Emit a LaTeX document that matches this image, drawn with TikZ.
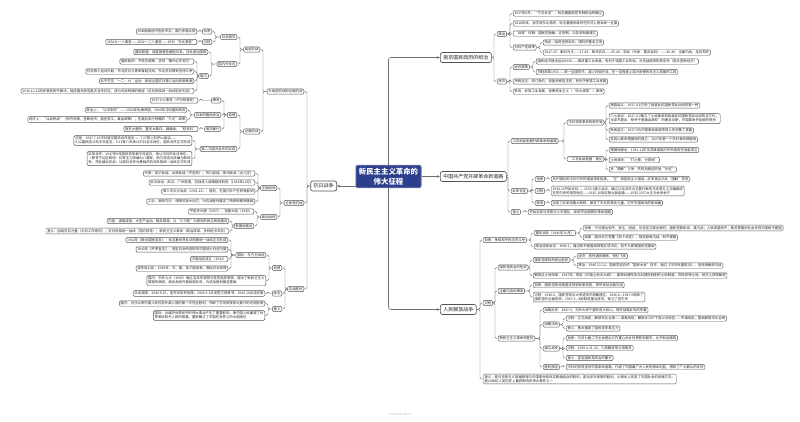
\documentclass[tikz,border=0pt]{standalone}
\usepackage{fontspec}
\setmainfont{Noto Sans CJK SC}
\usetikzlibrary{arrows.meta}
\definecolor{boxc}{HTML}{555555}
\definecolor{linec}{HTML}{6E6E6E}
\definecolor{cblue}{HTML}{2D3E8C}
\newcommand\fsz{\fontsize{3.4pt}{4.3pt}\selectfont}
\newcommand\fmz{\fontsize{5pt}{6pt}\selectfont}
\newcommand\rk[2]{\path (#2.west) ++(-3,0) coordinate (jn); \draw[conn] (#1.east) -- (#1.east -| jn) |- (#2.west);}
\newcommand\lk[2]{\path (#2.east) ++(3,0) coordinate (jn); \draw[conn] (#1.west) -- (#1.west -| jn) |- (#2.east);}
\tikzset{
 box/.style={draw=boxc, fill=white, rounded corners=1.2pt, line width=0.45pt, inner xsep=1.3pt, inner ysep=1.1pt, font=\fsz, align=left, text=black!85},
 rb/.style={box, anchor=west},
 lb/.style={box, anchor=east},
 mainbox/.style={draw=boxc, fill=white, rounded corners=2pt, line width=0.7pt, inner xsep=3pt, inner ysep=2.6pt, font=\fmz, text=black!85},
 conn/.style={draw=linec, line width=0.45pt, rounded corners=1.5pt},
 mconn/.style={draw=linec, line width=0.6pt, rounded corners=2.5pt, -{Stealth[length=3.2pt,width=2.6pt]}},
}
\begin{document}
\begin{tikzpicture}[x=1pt,y=-1pt]
\fill[white] (0,0) rectangle (800,421);
\useasboundingbox (0,0) rectangle (800,421);

% centre
\node[fill=cblue, draw=cblue!70!white, line width=0.8pt, rounded corners=2pt, text=white, font=\fontsize{7.4pt}{9.5pt}\selectfont\bfseries, align=center, inner xsep=3pt, inner ysep=3pt] (cn) at (388.5,176.5) {新民主主义革命的\\伟大征程};

% ===== right: 南京国民政府的统治
\node[mainbox, anchor=west] (nj) at (440,57.5) {南京国民政府的统治};
\node[rb] (zz) at (497,34) {政治};
\node[rb] (zz1) at (513,13.5) {1927年9月，“宁汉合流”，标志着国民党专制统治的确立};
\node[rb] (zz2) at (513,23.5) {1928年底，张学良东北易帜，标志着国民政府在形式上基本统一全国};
\node[rb] (zz3) at (513,33.5) {“训政”时期：国民党独裁，五院制，公务员制度建立};
\node[rb] (zz4) at (513,47.5) {对共产党政策};
\node[rb] (zz41) at (543,42.5) {特点：始终坚持反共、限共的基本立场};
\node[rb] (zz42) at (543,52.5) {1927-37：剿共为主——37-45：联共抗日——45-46：和谈（代表：重庆谈判）——46-49：全面内战，走向失败};
\node[rb] (jx) at (497,81.5) {经济};
\node[rb] (jx1) at (513,67) {经济政策};
\node[rb] (jx11) at (536,61.5) {国民经济建设运动1935——推进重工业发展，有利于调整工业布局，为抗战提供物质支持（官办垄断经济）};
\node[rb] (jx12) at (536,72) {币制改革1935——统一全国货币，减少白银外流，在一定程度上成为官僚资本主义发展的工具};
\node[rb] (jx2) at (513,81.5) {关税自主：改订新约，收回关税自主权，有利于民族工业发展};
\node[rb] (jx3) at (513,91.5) {影响：民族工业发展，官僚资本主义（“四大家族”）膨胀};
\rk{nj}{zz}\rk{nj}{jx}
\rk{zz}{zz1}\rk{zz}{zz2}\rk{zz}{zz3}\rk{zz}{zz4}
\rk{zz4}{zz41}\rk{zz4}{zz42}
\rk{jx}{jx1}\rk{jx}{jx2}\rk{jx}{jx3}
\rk{jx1}{jx11}\rk{jx1}{jx12}

% ===== right: 中国共产党开辟革命新道路
\node[mainbox, anchor=west] (gc) at (440,176.5) {中国共产党开辟革命新道路};
\node[rb] (gc1) at (511,141) {工农武装割据开辟革命新道路};
\node[rb] (gc11) at (567,122.5) {中共领导革命的新开端};
\node[rb] (gc111) at (609,105.5) {南昌起义：1927.8.1打响了武装反抗国民党反动派的第一枪};
\node[rb] (gc112) at (609,118.5) {八七会议：1927.8.7确立了土地革命和武装反抗国民党反动派的总方针，\\毛泽东提出“枪杆子里面出政权”的著名论断，中国革命开始新的转折};
\node[rb] (gc113) at (609,130.5) {秋收起义：1927.9为中国革命由城市转入农村做了准备};
\node[rb] (gc114) at (609,139.5) {井冈山革命根据地的建立：1927年第一个农村革命根据地};
\node[rb] (gc12) at (567,159) {“工农武装割据”理论};
\node[rb] (gc121) at (609,150) {根据地建设：1931.11中华苏维埃临时中央政府在瑞金成立};
\node[rb] (gc122) at (609,160) {土地革命：“打土豪，分田地”};
\node[rb] (gc123) at (609,169.5) {反“围剿”斗争：失败后被迫开始“长征”};
\node[rb] (gc2) at (511,191) {红军长征};
\node[rb] (gc21) at (535,179) {背景};
\node[rb] (gc211) at (551,179) {共产国际和中共中央的错误领导指挥，“左”倾冒险主义错误，红军第五次反“围剿”失败};
\node[rb] (gc22) at (535,191) {过程};
\node[rb] (gc221) at (551,191) {1934.10开始长征——1935.1遵义会议，确立以毛泽东为主要代表的马克思主义正确路线\\在党中央的领导地位——1935.10到达陕北吴起镇——1936.10三大主力会师会宁};
\node[rb] (gc23) at (535,203) {影响};
\node[rb] (gc231) at (551,203) {实现了红军战略大转移，保存了中共的革命力量，打开中国革命的新局面};
\node[rb] (gc3) at (511,212) {意义};
\node[rb] (gc31) at (528,212) {开始实现马克思主义中国化，找到符合国情的革命道路};
\rk{gc}{gc1}\rk{gc}{gc2}\rk{gc}{gc3}
\rk{gc1}{gc11}\rk{gc1}{gc12}
\rk{gc11}{gc111}\rk{gc11}{gc112}\rk{gc11}{gc113}\rk{gc11}{gc114}
\rk{gc12}{gc121}\rk{gc12}{gc122}\rk{gc12}{gc123}
\rk{gc2}{gc21}\rk{gc2}{gc22}\rk{gc2}{gc23}
\rk{gc21}{gc211}\rk{gc22}{gc221}\rk{gc23}{gc231}
\rk{gc3}{gc31}

% ===== right: 人民解放战争
\node[mainbox, anchor=west] (rm) at (440,309.5) {人民解放战争};
\node[rb] (rm1) at (483,240) {背景：争取和平民主的斗争};
\node[rb] (rm11) at (534,233) {重庆谈判（1945年10月）};
\node[rb] (rm111) at (583,228) {背景：中共提出和平、民主、团结，号召成立联合政府；国民党假和谈，真内战；人民渴望和平；美苏等国际社会支持中国和平建国};
\node[rb] (rm112) at (583,237.5) {结果：国共双方签署《双十协定》，规定避免内战，和平建国};
\node[rb] (rm12) at (534,246.5) {政治协商会议：1946.1，通过和平建国纲领等五项决议，但不久即被国民党撕毁};
\node[rb] (rm2) at (483,303) {过程};
\node[rb] (rm21) at (498,267.5) {国民党统治的危机};
\node[rb] (rm211) at (533,260) {国民党政权的统治危机};
\node[rb] (rm2111) at (577,256) {经济：恶性通货膨胀，物价飞涨};
\node[rb] (rm2112) at (577,265.5) {政治：1946.11-12，国民党包办的“国民大会”召开，通过《中华民国宪法》，坚持独裁和内战};
\node[rb] (rm212) at (533,275.5) {解放区土地改革：1947年，制定《中国土地法大纲》，废除封建性及半封建性剥削的土地制度，农民获得土地，经济上获得解放};
\node[rb] (rm22) at (498,291) {全面内战的爆发};
\node[rb] (rm221) at (533,285) {背景：国民党依仗美国支持和军事优势，悍然发动全面内战};
\node[rb] (rm222) at (533,297) {过程：1946.6，国民党军队大举进攻中原解放区，1946.6—1947.6粉碎了\\国民党的全面进攻；1947.3—8粉碎其重点进攻，保卫了党中央};
\node[rb] (rm23) at (498,338.5) {新民主主义革命的胜利};
\node[rb] (rm231) at (543,310) {战略反攻：1947.6，刘邓大军千里跃进大别山，揭开战略反攻的序幕};
\node[rb] (rm232) at (543,324.5) {战略决战};
\node[rb] (rm2321) at (566,318.5) {过程：辽沈战役，解放东北全境——淮海战役，解放长江中下游以北地区——平津战役，基本解放华北全境};
\node[rb] (rm2322) at (566,328.5) {意义：基本摧毁了国民党军事主力};
\node[rb] (rm233) at (543,348.5) {渡江战役};
\node[rb] (rm2331) at (566,338) {背景：中共七届二中全会提出工作重心由乡村转移到城市，北平和谈破裂};
\node[rb] (rm2332) at (566,348) {过程：1949.4.21-23，人民解放军占领南京};
\node[rb] (rm2333) at (566,358) {意义：宣告国民党统治的覆灭};
\node[rb] (rm234) at (543,367) {胜利原因};
\node[rb] (rm2341) at (566,367) {中共的领导坚持中国革命道路，代表了中国最广大人民的根本利益，得到了广大群众的支持};
\node[rb] (rm3) at (483,379) {意义：是马克思主义普遍原理与中国革命具体实践相结合的胜利，是毛泽东思想的胜利，从根本上改变了中国社会的发展方向，\\是20世纪人类历史上最具影响的伟大事件之一};
\rk{rm}{rm1}\rk{rm}{rm2}\rk{rm}{rm3}
\rk{rm1}{rm11}\rk{rm1}{rm12}
\rk{rm11}{rm111}\rk{rm11}{rm112}
\rk{rm2}{rm21}\rk{rm2}{rm22}\rk{rm2}{rm23}
\rk{rm21}{rm211}\rk{rm21}{rm212}
\rk{rm211}{rm2111}\rk{rm211}{rm2112}
\rk{rm22}{rm221}\rk{rm22}{rm222}
\rk{rm23}{rm231}\rk{rm23}{rm232}\rk{rm23}{rm233}\rk{rm23}{rm234}
\rk{rm232}{rm2321}\rk{rm232}{rm2322}
\rk{rm233}{rm2331}\rk{rm233}{rm2332}\rk{rm233}{rm2333}
\rk{rm234}{rm2341}

% ===== left: 抗日战争
\node[mainbox, anchor=east] (kr) at (337,186) {抗日战争};
\node[lb] (k1) at (304,91.5) {从局部抗战到全面抗战};
\node[lb] (k11) at (260,49.5) {局部抗战};
\node[lb] (k111) at (237,37) {日本侵华};
\node[lb] (k1111) at (212,31.5) {背景};
\node[lb] (k11111) at (197,31.5) {日本面临经济危机冲击，国内矛盾尖锐};
\node[lb] (k1112) at (212,42) {过程};
\node[lb] (k11121) at (197,42) {1931九一八事变——1932一二八事变——1935“华北事变”};
\node[lb] (k112) at (237,64) {国内外反应};
\node[lb] (k1121) at (208,52) {国际联盟：调查团报告偏袒日本，日本退出国联};
\node[lb] (k1122) at (208.5,76) {国内};
\node[lb] (k11221) at (194,61.5) {国民政府：不抵抗政策，坚持“攘外必先安内”};
\node[lb] (k11222) at (194,71.5) {抗日救亡运动兴起：东北抗日义勇军奋起抗战，东北抗日联军坚持斗争};
\node[lb] (k11223) at (194,81) {北平学生“一二·九”运动：掀起全国抗日救亡运动的新高潮};
\node[lb] (k11224) at (194,91) {1936.12.12西安事变和平解决，促成国共两党再次合作抗日，成为时局转换的枢纽（抗日民族统一战线初步形成）};
\node[lb] (k12) at (260,131.5) {全面抗战};
\node[lb] (k121) at (237,115) {背景};
\node[lb] (k1211) at (221,100.5) {爆发};
\node[lb] (k12111) at (198,100.5) {1937七七事变（卢沟桥事变）};
\node[lb] (k1212) at (221,115) {日本的殖民统治};
\node[lb] (k12121) at (187,110) {政治上：“以华制华”——1932年伪满洲国，1940年汪伪国民政府};
\node[lb] (k12122) at (187,119.5) {经济上：“以战养战”（掠夺资源，垄断经济，强征劳工，毒品政策）；在敌后实行残酷的“三光”政策};
\node[lb] (k1213) at (221,129) {侵华暴行};
\node[lb] (k12131) at (198,129) {南京大屠杀、重庆大轰炸、细菌战、“慰安妇”};
\node[lb] (k122) at (237,149) {第二次国共合作的实现};
\node[lb] (k1221) at (192,140.5) {过程：1937.7.15中共提交国共合作宣言——7.17蒋介石庐山谈话——\\9.22国民党公布中共宣言，9.23蒋介石承认中共合法地位，国共合作正式形成};
\node[lb] (k1222) at (192,158.5) {实现合作：1937年9月国民党发表中共宣言，承认中共的合法地位；\\（陕甘宁边区政府）红军主力改编为八路军，南方游击队改编为新四\\军，开赴敌后抗战；以国共合作为基础的抗日民族统一战线正式形成};
\node[lb] (k2) at (304,203) {全民族抗战};
\node[lb] (k21) at (277,188) {正面战场};
\node[lb] (k211) at (255,173.5) {代表：淞沪会战、太原会战（平型关）、忻口会战、徐州会战（台儿庄）};
\node[lb] (k212) at (255,182.5) {武汉会战：武汉、广州陷落，抗战进入战略相持阶段（1938年10月）};
\node[lb] (k213) at (255,191.5) {第三次长沙会战（1941.12）：胜利，在国内外产生积极影响};
\node[lb] (k214) at (255,201.5) {工业、高校内迁：保障抗战大后方，为抗战胜利奠定了物质和精神基础};
\node[lb] (k22) at (277,217) {敌后战场};
\node[lb] (k221) at (254,211.5) {平型关大捷（1937）、百团大战（1940）};
\node[lb] (k222) at (254,226) {根据地建设};
\node[lb] (k2221) at (229,221) {内容：减租减息、大生产运动、精兵简政、以“三三制”为原则的民主政权建设};
\node[lb] (k2222) at (229,231) {意义：团结抗日力量（对日工作原则）；抗日民族统一战线（党的领导）；新民主主义革命（政治改革、多种经济共存）};
\node[lb] (k3) at (304,289) {抗战胜利};
\node[lb] (k31) at (282,268) {背景};
\node[lb] (k311) at (266,255) {国际：东方主战场};
\node[lb] (k3111) at (228,240) {1942年《联合国家宣言》：标志着世界反法西斯统一战线正式形成};
\node[lb] (k3112) at (228,249.5) {1943年《开罗宣言》：规定日本所窃取的中国领土归还中国};
\node[lb] (k3113) at (228,259) {中国战区成立（1942）};
\node[lb] (k3114) at (228,268.5) {波茨坦公告：1945年，中、美、英三国发表，敦促日本投降};
\node[lb] (k312) at (266,280.5) {国内：中共七大（1945）确立毛泽东思想为党的指导思想，提出了新民主主义\\国家的政纲；敌后战场开展局部反攻，为抗战胜利奠定基础};
\node[lb] (k32) at (282,293.5) {标志};
\node[lb] (k321) at (265,293.5) {日本投降：1945.8.15，宣布无条件投降；1945.9.2日本签订投降书；1945.10台湾光复};
\node[lb] (k33) at (282,309) {意义};
\node[lb] (k331) at (265,303.5) {国内：近代以来中国人民抗击外敌入侵的第一次完全胜利，开辟了中华民族伟大复兴的光明前景};
\node[lb] (k332) at (265,315.5) {国际：对维护世界和平的伟大事业产生了重要影响，使中国人民赢得了世\\界爱好和平人民的尊重，重新确立了中国在世界上的大国地位};
\lk{kr}{k1}\lk{kr}{k2}\lk{kr}{k3}
\lk{k1}{k11}\lk{k1}{k12}
\lk{k11}{k111}\lk{k11}{k112}
\lk{k111}{k1111}\lk{k111}{k1112}
\lk{k1111}{k11111}\lk{k1112}{k11121}
\lk{k112}{k1121}\lk{k112}{k1122}
\lk{k1122}{k11221}\lk{k1122}{k11222}\lk{k1122}{k11223}\lk{k1122}{k11224}
\lk{k12}{k121}\lk{k12}{k122}
\lk{k121}{k1211}\lk{k121}{k1212}\lk{k121}{k1213}
\lk{k1211}{k12111}\lk{k1212}{k12121}\lk{k1212}{k12122}\lk{k1213}{k12131}
\lk{k122}{k1221}\lk{k122}{k1222}
\lk{k2}{k21}\lk{k2}{k22}
\lk{k21}{k211}\lk{k21}{k212}\lk{k21}{k213}\lk{k21}{k214}
\lk{k22}{k221}\lk{k22}{k222}
\lk{k222}{k2221}\lk{k222}{k2222}
\lk{k3}{k31}\lk{k3}{k32}\lk{k3}{k33}
\lk{k31}{k311}\lk{k31}{k312}
\lk{k311}{k3111}\lk{k311}{k3112}\lk{k311}{k3113}\lk{k311}{k3114}
\lk{k32}{k321}
\lk{k33}{k331}\lk{k33}{k332}

% main connectors
\draw[mconn] (cn.north) |- (nj.west);
\draw[mconn] (cn.east |- gc.west) -- (gc.west);
\draw[mconn] (cn.south) |- (rm.west);
\draw[mconn] (cn.west |- kr.east) -- (kr.east);

% footer
\node[font=\fontsize{2.6pt}{3pt}\selectfont, text=black!30] (wm) at (400,415) {Powered by Xmind};
\end{tikzpicture}
\end{document}
